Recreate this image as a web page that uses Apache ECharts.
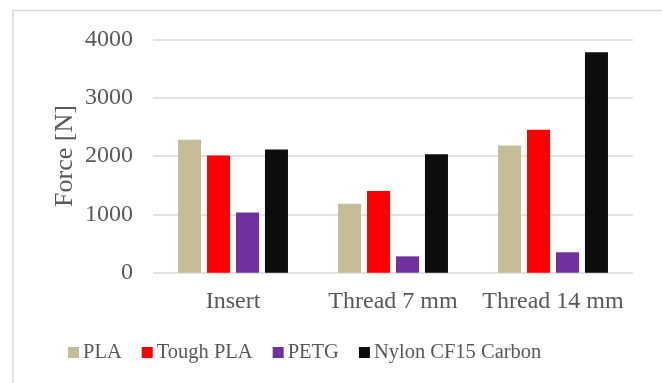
<!DOCTYPE html>
<html><head><meta charset="utf-8">
<script src="https://cdn.jsdelivr.net/npm/echarts@6/dist/echarts.min.js"></script>
<style>html,body{margin:0;padding:0;background:#fff;}#c{width:662px;height:383px;}</style>
</head><body><div id="c"></div>
<script>
const categories = ['Insert', 'Thread 7 mm', 'Thread 14 mm'];
const pla = [2280, 1180, 2180];
const toughPla = [2010, 1400, 2450];
const petg = [1030, 280, 350];
const nylon = [2110, 2030, 3780];
const yTicks = [0, 1000, 2000, 3000, 4000];

const font = 'Liberation Serif, Times New Roman, serif';
const txt = '#595959';
const chart = echarts.init(document.getElementById('c'), null, {renderer: 'canvas'});
function bar(name, data, color) {
  return {name, type: 'bar', data, barWidth: 23, barGap: '26%',
    itemStyle: {color}, emphasis: {disabled: true}};
}
chart.setOption({
  animation: false,
  graphic: [{type: 'rect', shape: {x: 13, y: 10.5, width: 700, height: 400},
    style: {fill: 'none', stroke: '#d9d9d9', lineWidth: 1.5}, silent: true}],
  grid: {left: 153, right: 29, top: 39.3, bottom: 110.3},
  legend: {left: 63, top: 337, itemWidth: 11, itemHeight: 11, itemGap: 20,
    icon: 'rect',
    textStyle: {fontFamily: font, fontSize: 20.5, color: txt, padding: [0, 0, 0, -1]},
    data: ['PLA', 'Tough PLA', 'PETG', 'Nylon CF15 Carbon']},
  xAxis: {type: 'category', data: categories,
    axisLine: {show: false}, axisTick: {show: false},
    axisLabel: {fontFamily: font, fontSize: 24, color: txt, margin: 17, interval: 0}},
  yAxis: {type: 'value', min: yTicks[0], max: yTicks[yTicks.length - 1], interval: 1000,
    name: 'Force [N]', nameLocation: 'middle', nameGap: 75, nameMoveOverlap: false,
    nameTextStyle: {fontFamily: font, fontSize: 26, color: txt},
    axisLabel: {fontFamily: font, fontSize: 24, color: txt, margin: 20,
      formatter: v => String(v)},
    splitLine: {lineStyle: {color: '#d9d9d9', width: 1.5}}},
  series: [
    bar('PLA', pla, '#C4BD97'),
    bar('Tough PLA', toughPla, '#FF0000'),
    bar('PETG', petg, '#7030A0'),
    bar('Nylon CF15 Carbon', nylon, '#0D0D0D')
  ]
});
</script></body></html>
